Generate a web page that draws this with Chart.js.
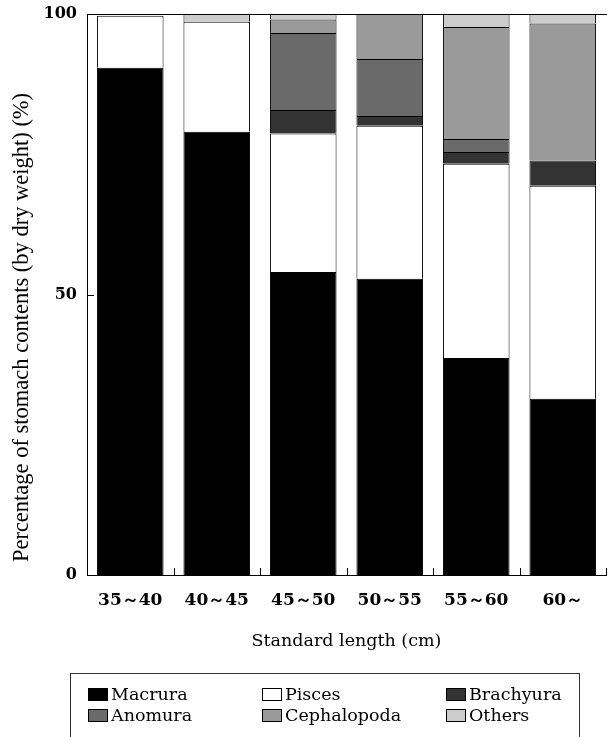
<!DOCTYPE html>
<html>
<head>
<meta charset="utf-8">
<script src="https://cdn.jsdelivr.net/npm/chart.js@4"></script>
<style>
  html, body { margin: 0; padding: 0; background: #fff; }
  #wrap { position: relative; width: 608px; height: 737px; overflow: hidden; }
  #legend {
    position: absolute; left: 70px; top: 673px; width: 510px; height: 80px;
    border: 1px solid #333; box-sizing: border-box;
    font-family: "DejaVu Serif", serif; font-size: 17.5px; color: #000;
  }
  .item { position: absolute; display: flex; align-items: center; white-space: nowrap; line-height: 20px; }
  .sw { display: inline-block; width: 20px; height: 13px; border: 1px solid #000; box-sizing: border-box; margin-right: 3px; }
</style>
</head>
<body>
<div id="wrap">
  <canvas id="c" width="608" height="737"></canvas>
  <div id="legend"></div>
</div>
<script>
// ---- data ----
const categories = ["35～40", "40～45", "45～50", "50～55", "55～60", "60～"];
const macrura     = [90.4, 79.0, 54.0, 52.8, 38.7, 31.4];
const pisces      = [9.3, 19.6, 24.7, 27.3, 34.6, 38.0];
const brachyura   = [null, null, 4.2, 1.7, 2.1, 4.5];
const anomura     = [null, null, 13.7, 10.2, 2.3, null];
const cephalopoda = [null, null, 2.4, 8.0, 20.0, 24.4];
const others      = [null, 1.4, 1.0, null, 2.3, 1.7];
const yTicks = [0, 50, 100];
const yTitle = "Percentage of stomach contents (by dry weight) (%)";
const xTitle = "Standard length (cm)";

const seriesNames = ["Macrura", "Pisces", "Brachyura", "Anomura", "Cephalopoda", "Others"];
const seriesData = [macrura, pisces, brachyura, anomura, cephalopoda, others];
const seriesColors = ["#000000", "#ffffff", "#333333", "#6a6a6a", "#9a9a9a", "#cccccc"];

const datasets = seriesNames.map((n, i) => ({
  label: n,
  data: seriesData[i],
  backgroundColor: seriesColors[i],
  borderColor: "#000",
  borderWidth: 1,
  barPercentage: 0.77,
  categoryPercentage: 1.0
}));

const frame = {
  id: "frame",
  afterDraw(chart) {
    const {ctx, chartArea: a, scales: {x, y}} = chart;
    ctx.save();
    ctx.strokeStyle = "#000";
    ctx.lineWidth = 1;
    ctx.beginPath();
    // top line
    ctx.moveTo(a.left, Math.round(a.top) + 0.5);
    ctx.lineTo(a.right + 1, Math.round(a.top) + 0.5);
    // inward y ticks
    yTicks.forEach(v => {
      const py = Math.round(y.getPixelForValue(v)) + 0.5;
      ctx.moveTo(a.left, py); ctx.lineTo(a.left + 7, py);
    });
    // inward x ticks at category boundaries
    for (let i = 0; i <= categories.length; i++) {
      const px = Math.round(x.getPixelForValue(i - 0.5)) + 0.5;
      ctx.moveTo(px, a.bottom); ctx.lineTo(px, a.bottom - 7);
    }
    ctx.stroke();
    // y axis title (rotated), positioned a little below the axis centre as in the original
    ctx.fillStyle = "#000";
    ctx.font = "22.5px 'Liberation Serif', serif";
    ctx.textAlign = "center";
    ctx.textBaseline = "middle";
    ctx.translate(22, (a.top + a.bottom) / 2 + 33);
    ctx.rotate(-Math.PI / 2);
    ctx.fillText(yTitle, 0, 0);
    ctx.restore();
  }
};

const chart = new Chart(document.getElementById("c"), {
  type: "bar",
  data: { labels: categories, datasets },
  plugins: [frame],
  options: {
    responsive: false,
    animation: false,
    devicePixelRatio: 1,
    layout: { padding: { left: 0, right: 2, top: 14, bottom: 82 } },
    plugins: { legend: { display: false }, tooltip: { enabled: false } },
    scales: {
      x: {
        stacked: true,
        offset: true,
        grid: { display: false, drawTicks: false },
        border: { display: true, color: "#000", width: 1 },
        ticks: { color: "#000", padding: 15, maxRotation: 0,
                 font: { family: "'DejaVu Serif', serif", size: 17, weight: "bold" } },
        title: { display: true, text: xTitle, color: "#000",
                 font: { family: "'DejaVu Serif', serif", size: 17.5 },
                 padding: { top: 0, bottom: 3 } },
        afterFit(s) { s.height = 80; s.paddingLeft = 0; s.paddingRight = 0; }
      },
      y: {
        stacked: true,
        min: 0, max: 100,
        afterBuildTicks(s) { s.ticks = yTicks.map(v => ({ value: v })); },
        grid: { display: false, drawTicks: false },
        border: { display: true, color: "#000", width: 1 },
        ticks: { color: "#000", padding: 10,
                 font: { family: "'DejaVu Serif', serif", size: 16, weight: "bold" } },
        title: { display: false },
        afterFit(s) { s.width = 87; s.paddingTop = 0; s.paddingBottom = 0; }
      }
    }
  }
});

// HTML legend built from the datasets
const legend = document.getElementById("legend");
const colX = [17, 191, 375];
const rowY = [10, 31];
datasets.forEach((d, i) => {
  const el = document.createElement("div");
  el.className = "item";
  el.style.left = colX[i % 3] + "px";
  el.style.top = rowY[Math.floor(i / 3)] + "px";
  const sw = document.createElement("span");
  sw.className = "sw";
  sw.style.background = d.backgroundColor;
  el.appendChild(sw);
  el.appendChild(document.createTextNode(d.label));
  legend.appendChild(el);
});
</script>
</body>
</html>
